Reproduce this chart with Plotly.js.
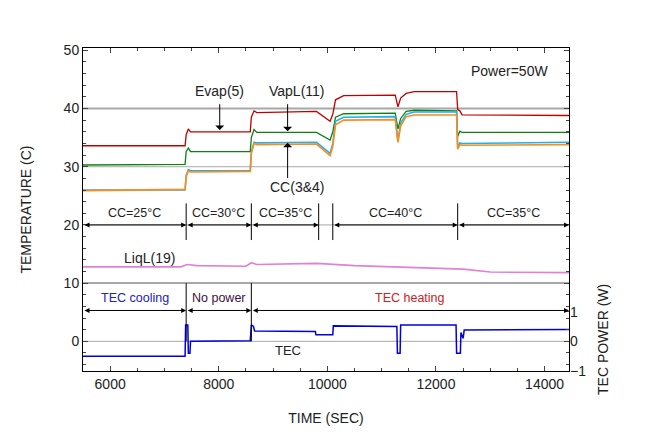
<!DOCTYPE html>
<html><head><meta charset="utf-8">
<script src="https://cdn.plot.ly/plotly-3.0.1.min.js"></script>
<style>body{margin:0}#c{width:650px;height:445px}</style></head>
<body><div id="c"></div>
<script>
const tTemp=[5500,7380,7400,7440,7480,8580,8600,8650,8700,9800,10050,10100,10150,10300,11250,11300,11350,11450,11600,12380,12400,12440,12480,14450];
const evap=[33.6,33.6,35.5,36.5,36,36,38.5,39.6,39.3,39.5,37.8,39,41.5,42.2,42.3,40.3,41.8,42.6,42.9,42.9,39.8,39.6,38.9,38.8];
const vapl=[30.3,30.4,32.6,33.2,32.6,32.6,35,36.4,35.9,35.9,34.6,36,38.5,39.1,39.2,36.5,38.3,39.5,39.7,39.6,35.2,36.1,35.9,35.9];
const cc3=[26,26,28.5,29.5,29.3,29.3,32.5,34.2,34.1,34.2,32.3,34,37.8,38.5,38.6,34.5,37.5,39,39.4,39.4,33.3,34.1,34,34.2];
const cc4=[25.9,26.1,28.3,29.3,29.1,29.2,32.3,34,33.8,33.9,31.9,33.5,37.2,38,38.1,34.2,37,38.6,38.9,38.9,33,33.8,33.7,33.8];
const tLiq=[5500,7300,7420,7600,8500,8600,8700,9500,9800,10500,11500,12500,13000,14450];
const liql=[12.8,12.8,13.2,13.0,12.9,13.5,13.2,13.3,13.4,13.0,12.7,12.4,11.9,11.8];
const tTec=[5500,7380,7390,7430,7440,7470,7480,8580,8600,8640,8660,9780,9790,10100,10110,11280,11290,11340,11350,12370,12380,12450,12460,12500,12520,14450];
const tec=[-0.5,-0.5,0.55,0.55,-0.4,-0.4,0,0.02,0.55,0.5,0.35,0.33,0.22,0.22,0.52,0.5,-0.4,-0.4,0.55,0.55,-0.4,-0.4,0.3,0.1,0.38,0.4];
const xTicks=[6000,8000,10000,12000,14000];
const xTickText=['6000','8000','10000','12000','14000'];
const ccSeg=[[5500,7400,'CC=25°C'],[7400,8600,'CC=30°C'],[8600,9840,'CC=35°C'],[10100,12400,'CC=40°C'],[12400,14450,'CC=35°C']];
const ccSep=[7400,8600,9840,10100,12400];
const tecSeg=[[5500,7400,'TEC cooling','#2020c0'],[7400,8600,'No power','#401040'],[8600,14450,'TEC heating','#d02020']];

const L=(c,w)=>({color:c,width:w||1.3});
const data=[
 {x:tTemp,y:evap,mode:'lines',line:L('#c00000')},
 {x:tTemp,y:vapl,mode:'lines',line:L('#108010')},
 {x:tTemp,y:cc3,mode:'lines',line:L('#20b0f0',1.6)},
 {x:tTemp,y:cc4,mode:'lines',line:L('#ff8c1a',1.6)},
 {x:tLiq,y:liql,mode:'lines',line:L('#e080d8',1.6)},
 {x:tTec,y:tec,mode:'lines',line:L('#0000dd',1.5),yaxis:'y2'}
];
const shapes=[];
[[40,2],[30,1],[20,1],[10,2],[0,1]].forEach(([v,w])=>shapes.push({type:'line',xref:'paper',x0:0,x1:1,y0:v,y1:v,line:{color:'#a8a8a8',width:w},layer:'below'}));
ccSep.forEach(s=>shapes.push({type:'line',x0:s,x1:s,y0:17.4,y1:23.7,line:{color:'#000',width:1}}));
[7400,8600].forEach(s=>shapes.push({type:'line',x0:s,x1:s,y0:0,y1:10,line:{color:'#000',width:1}}));
const ann=[];
const F=(c,s)=>({family:'Liberation Sans, Arial',size:s||12.5,color:c||'#222'});
ccSeg.forEach(([a,b,t])=>{
 ann.push({x:b,y:20,ax:a,ay:20,axref:'x',ayref:'y',text:'',showarrow:true,arrowhead:2,arrowside:'end+start',arrowwidth:1,arrowcolor:'#000'});
 ann.push({x:(a+b)/2,y:22,text:t,showarrow:false,font:F()});
});
tecSeg.forEach(([a,b,t,c])=>{
 ann.push({x:b,y:5.3,ax:a,ay:5.3,axref:'x',ayref:'y',text:'',showarrow:true,arrowhead:2,arrowside:'end+start',arrowwidth:1,arrowcolor:'#000'});
 ann.push({x:(a+b)/2,y:7.4,text:t,showarrow:false,font:F(c)});
});
const arr=(x,y0,y1)=>ann.push({x:x,y:y1,ax:x,ay:y0,axref:'x',ayref:'y',text:'',showarrow:true,arrowhead:1,arrowsize:1.5,arrowwidth:1,arrowcolor:'#000'});
arr(8018,41,36.3); arr(9268,41,36.1); arr(9268,27.8,34.1);
ann.push({x:8018,y:43,text:'Evap(5)',showarrow:false,font:F('#222',14)});
ann.push({x:9450,y:43,text:'VapL(11)',showarrow:false,font:F('#222',14)});
ann.push({x:9450,y:26.5,text:'CC(3&4)',showarrow:false,font:F('#222',14)});
ann.push({x:13350,y:46.5,text:'Power=50W',showarrow:false,font:F('#222',14)});
ann.push({x:6730,y:14.4,text:'LiqL(19)',showarrow:false,font:F('#222',14)});
ann.push({x:9268,y:-1.6,text:'TEC',showarrow:false,font:F('#222',13)});
ann.push({xref:'paper',yref:'paper',x:1.07,y:0.096,text:'TEC POWER (W)',textangle:-90,showarrow:false,xanchor:'center',yanchor:'middle',font:F('#222',14)});
const ax={showline:true,linecolor:'#000',linewidth:1,ticks:'inside',ticklen:5,mirror:'ticks',showgrid:false,zeroline:false,tickfont:F('#222',14)};
Plotly.newPlot('c',data,{
 width:650,height:445,margin:{l:83,r:81,t:48,b:74},showlegend:false,
 plot_bgcolor:'#fff',paper_bgcolor:'#fff',
 xaxis:Object.assign({},ax,{range:[5500,14450],tickvals:xTicks,ticktext:xTickText,minor:{dtick:500,ticks:'inside',ticklen:3},title:{text:'TIME (SEC)',font:F('#222',14),standoff:22}}),
 yaxis:Object.assign({},ax,{range:[-5.1,50.4],tickvals:[0,10,20,30,40,50],minor:{dtick:2,ticks:'inside',ticklen:3},title:{text:'TEMPERATURE (C)',font:F('#222',14),standoff:28}}),
 yaxis2:Object.assign({},ax,{overlaying:'y',side:'right',range:[-1,9.88],tickvals:[-1,0,1],mirror:false,showline:false}),
 shapes:shapes,annotations:ann
},{staticPlot:true});
</script></body></html>
